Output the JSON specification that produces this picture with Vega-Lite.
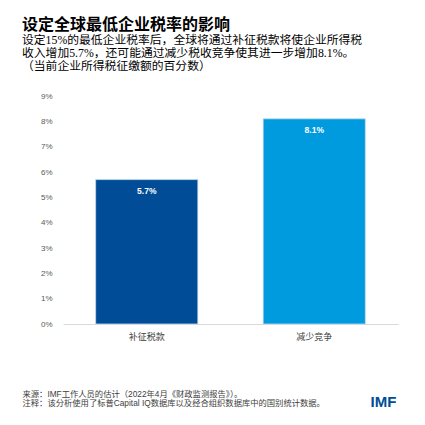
{
  "$schema": "https://vega.github.io/schema/vega-lite/v6.json",
  "autosize": {"type": "none"},
  "padding": {"left": 63, "top": 96, "right": 27, "bottom": 101},
  "width": 335,
  "height": 228,
  "background": "white",
  "title": {
    "text": "设定全球最低企业税率的影响",
    "subtitle": [
      "设定15%的最低企业税率后，全球将通过补征税款将使企业所得税",
      "收入增加5.7%，还可能通过减少税收竞争使其进一步增加8.1%。",
      "（当前企业所得税征缴额的百分数）"
    ],
    "anchor": "start",
    "frame": "group",
    "dx": -41,
    "offset": 19,
    "font": "Liberation Sans, Noto Sans CJK SC",
    "fontSize": 16,
    "fontWeight": "bold",
    "color": "black",
    "subtitleFont": "Liberation Serif, Noto Sans CJK SC",
    "subtitleFontSize": 11.8,
    "subtitleColor": "black",
    "subtitleLineHeight": 13.2,
    "subtitlePadding": 2
  },
  "data": {
    "values": [
      {"category": "补征税款", "value": 5.7, "label": "5.7%"},
      {"category": "减少竞争", "value": 8.1, "label": "8.1%"}
    ]
  },
  "encoding": {
    "x": {
      "field": "category",
      "type": "nominal",
      "sort": null,
      "scale": {"paddingInner": 0.39, "paddingOuter": 0.195},
      "title": [
        "来源：IMF工作人员的估计（2022年4月《财政监测报告》）。",
        "注释：该分析使用了标普Capital IQ数据库以及经合组织数据库中的国别统计数据。"
      ],
      "axis": {
        "labelAngle": 0,
        "labelFont": "Noto Sans CJK SC",
        "labelFontSize": 9,
        "labelColor": "#404040",
        "labelPadding": 8,
        "ticks": false,
        "domainColor": "#d9d9d9",
        "titleFont": "Liberation Sans, Noto Sans CJK SC",
        "titleFontSize": 8.3,
        "titleFontWeight": "normal",
        "titleColor": "#404040",
        "titleLineHeight": 9.3,
        "titleAnchor": "start",
        "titleAlign": "left",
        "titleBaseline": "top",
        "titleX": -41,
        "titleY": 65
      }
    },
    "y": {
      "field": "value",
      "type": "quantitative",
      "scale": {"domain": [0, 9], "nice": false},
      "title": "IMF",
      "axis": {
        "values": [0, 1, 2, 3, 4, 5, 6, 7, 8, 9],
        "labelExpr": "datum.value + '%'",
        "labelFont": "Liberation Sans",
        "labelFontSize": 8,
        "labelColor": "#595959",
        "labelPadding": 11,
        "ticks": false,
        "domain": false,
        "grid": false,
        "titleAngle": 0,
        "titleFont": "Liberation Sans",
        "titleFontSize": 15,
        "titleFontWeight": "bold",
        "titleColor": "#004C97",
        "titleAlign": "left",
        "titleBaseline": "alphabetic",
        "titleX": 307,
        "titleY": 310
      }
    }
  },
  "layer": [
    {
      "mark": {"type": "bar", "stroke": "#c6dcef", "strokeWidth": 0.8},
      "encoding": {
        "color": {
          "field": "category",
          "type": "nominal",
          "sort": null,
          "scale": {"range": ["#004C97", "#009ADE"]},
          "legend": null
        }
      }
    },
    {
      "mark": {
        "type": "text",
        "dy": 11,
        "baseline": "middle",
        "color": "white",
        "font": "Liberation Sans",
        "fontSize": 8.5,
        "fontWeight": "bold"
      },
      "encoding": {"text": {"field": "label"}}
    }
  ],
  "config": {"view": {"stroke": null}}
}
